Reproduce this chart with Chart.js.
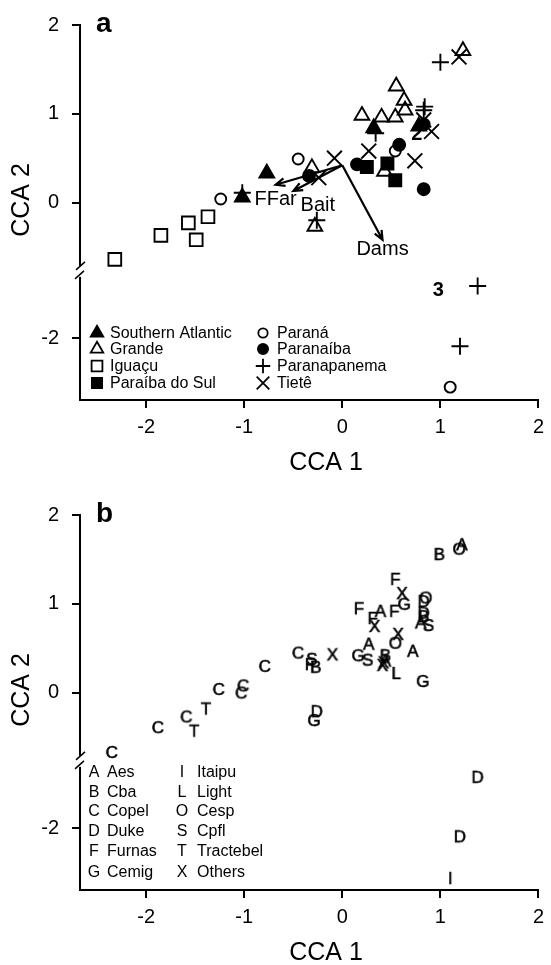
<!DOCTYPE html>
<html>
<head>
<meta charset="utf-8">
<title>CCA ordination</title>
<script src="https://cdn.jsdelivr.net/npm/chart.js@4.4.0/dist/chart.umd.min.js"></script>
<style>
  html, body { margin: 0; padding: 0; background: #fff; }
  #wrap { position: relative; width: 551px; height: 965px; overflow: hidden; }
  canvas { position: absolute; left: 0; }
  #panelA { top: 0; }
  #panelB { top: 490px; }
</style>
</head>
<body>
<div id="wrap">
  <canvas id="panelA" width="551" height="490"></canvas>
  <canvas id="panelB" width="551" height="475"></canvas>
</div>
<script>
// ---- data: panel a, sites by basin (CCA 1, CCA 2) ----
const southAtlanticX = [-0.77, -1.02, 0.32, 0.78];
const southAtlanticY = [0.33, 0.06, 0.84, 0.86];
const grandeX = [1.23, 0.55, 0.63, 0.64, 0.20, 0.40, 0.54, 0.43, -0.31, -0.28];
const grandeY = [1.71, 1.31, 1.15, 1.04, 0.98, 0.96, 0.96, 0.35, 0.39, -0.27];
const iguacuX = [-1.85, -1.57, -1.37, -1.49, -2.32];
const iguacuY = [-0.37, -0.23, -0.16, -0.42, -0.64];
const paraibaSulX = [0.25, 0.46, 0.54];
const paraibaSulY = [0.40, 0.44, 0.25];
const paranaX = [-0.45, -1.24, 0.54, 1.10];
const paranaY = [0.49, 0.04, 0.58, -2.55];
const paranaibaX = [0.15, -0.34, 0.58, 0.83, 0.83];
const paranaibaY = [0.43, 0.30, 0.65, 0.15, 0.88];
const paranapanemaX = [1.00, 0.84, 0.83, 0.34, -1.02, -0.26, 1.38, 1.20];
const paranapanemaY = [1.58, 1.08, 1.04, 0.78, 0.11, -0.20, -1.41, -2.09];
const tieteX = [1.19, 0.83, 0.91, 0.27, 0.74, -0.08, -0.24];
const tieteY = [1.64, 0.93, 0.80, 0.58, 0.47, 0.50, 0.28];

// environmental vectors (start, end)
const vecNames = ["FFar", "Bait", "Dams"];
const vecOrigin = [0, 0.42];
const vecEndX = [-0.68, -0.50, 0.41];
const vecEndY = [0.20, 0.13, -0.42];
const vecLabelX = [-0.68, -0.25, 0.41];
const vecLabelY = [0.03, -0.03, -0.53];

// ---- data: panel b, sites by company ----
const companyCodes = ["A", "B", "C", "D", "F", "G", "I", "L", "O", "S", "T", "X"];
const companyNames = ["Aes", "Cba", "Copel", "Duke", "Furnas", "Cemig", "Itaipu", "Light", "Cesp", "Cpfl", "Tractebel", "Others"];
const compAX = [1.22, 0.39, 0.80, 0.27, 0.72, 0.44];
const compAY = [1.67, 0.92, 0.79, 0.55, 0.47, 0.36];
const compBX = [0.99, 0.83, 0.44, -0.27];
const compBY = [1.56, 0.86, 0.42, 0.29];
const compCX = [-0.45, -0.79, -1.26, -1.01, -1.03, -1.59, -1.88, -2.35];
const compCY = [0.45, 0.30, 0.04, 0.08, 0.00, -0.27, -0.39, -0.67];
const compDX = [0.83, 0.83, -0.26, 1.38, 1.20];
const compDY = [1.03, 0.90, -0.21, -1.42, -2.09];
const compFX = [0.54, 0.17, 0.53, 0.31, -0.33];
const compFY = [1.28, 0.95, 0.92, 0.84, 0.32];
const compGX = [0.63, 0.16, 0.82, -0.29];
const compGY = [1.00, 0.42, 0.13, -0.31];
const compIX = [1.10];
const compIY = [-2.56];
const compLX = [0.55];
const compLY = [0.22];
const compOX = [1.19, 0.85, 0.54];
const compOY = [1.62, 1.07, 0.56];
const compSX = [0.88, 0.26, -0.31];
const compSY = [0.76, 0.37, 0.38];
const compTX = [-1.39, -1.51];
const compTY = [-0.18, -0.43];
const compXX = [0.61, 0.33, 0.57, -0.10, 0.41, 0.42];
const compXY = [1.12, 0.75, 0.66, 0.43, 0.31, 0.34];

// axes
const xTicks = [-2, -1, 0, 1, 2];
const yTicks = [-2, 0, 1, 2];
const X_MIN = -2.675, X_MAX = 2;
const Y_MIN = -2.225, Y_MAX = 2;   // in broken-axis display units
const BREAK_AT = -0.77;            // where the y axis is cut
const SHIFT = 0.47;                // how much the lower part is pulled up

const FONT = "'Liberation Sans', Arial, Helvetica, sans-serif";

function toDisp(v) { return v < -1.0 ? v + SHIFT : v; }
function fromDisp(d) { return d < BREAK_AT ? d - SHIFT : d; }
function pts(xs, ys) { return xs.map((x, i) => ({ x: x, y: toDisp(ys[i]) })); }

function makeScales(h) {
  const grid = { display: true, drawOnChartArea: false, drawTicks: true, tickLength: 8, color: '#000', lineWidth: 2 };
  const border = { display: true, color: '#000', width: 2 };
  return {
    x: {
      type: 'linear', min: X_MIN, max: X_MAX,
      afterBuildTicks: s => { s.ticks = xTicks.map(v => ({ value: v })); },
      afterFit: s => { s.height = h - 400; },
      grid: grid, border: border,
      ticks: { color: '#000', font: { family: FONT, size: 20 }, padding: 7, autoSkip: false, maxRotation: 0,
               callback: v => String(v) }
    },
    y: {
      type: 'linear', min: Y_MIN, max: Y_MAX,
      afterBuildTicks: s => { s.ticks = yTicks.map(v => ({ value: toDisp(v) })); },
      afterFit: s => { s.width = 80; },
      grid: grid, border: border,
      ticks: { color: '#000', font: { family: FONT, size: 20 }, padding: 13, autoSkip: false,
               callback: v => String(Math.round(fromDisp(v))) }
    }
  };
}

// axis break, titles and panel letter, shared by both panels
function frame(letter) {
  return {
    id: 'frame' + letter,
    afterDraw(chart) {
      const ctx = chart.ctx, a = chart.chartArea, y = chart.scales.y;
      const bx = a.left, by = y.getPixelForValue(BREAK_AT);
      ctx.save();
      ctx.fillStyle = '#fff';
      ctx.fillRect(bx - 3, by - 5, 6, 11);
      ctx.strokeStyle = '#000';
      ctx.lineWidth = 1.5;
      ctx.beginPath();
      ctx.moveTo(bx - 4, by - 1); ctx.lineTo(bx + 5, by - 9);
      ctx.moveTo(bx - 5, by + 8); ctx.lineTo(bx + 4, by);
      ctx.stroke();

      ctx.fillStyle = '#000';
      ctx.font = '25px ' + FONT;
      ctx.textAlign = 'center';
      ctx.textBaseline = 'middle';
      ctx.fillText('CCA 1', 326, 463);
      ctx.save();
      ctx.translate(22, 200);
      ctx.rotate(-Math.PI / 2);
      ctx.fillText('CCA 2', 0, 0);
      ctx.restore();

      ctx.font = 'bold 28px ' + FONT;
      ctx.textAlign = 'left';
      ctx.fillText(letter, 96, 24);
      ctx.restore();
    }
  };
}

function drawSymbol(ctx, style, radius, filled, x, y) {
  ctx.fillStyle = filled ? '#000' : 'rgba(0,0,0,0)';
  ctx.strokeStyle = '#000';
  ctx.lineWidth = 1.8;
  Chart.helpers.drawPoint(ctx, { pointStyle: style, radius: radius, borderWidth: 1.8, rotation: 0 }, x, y);
}

// ---- panel a ----
const basinSets = [
  { label: 'Southern Atlantic', xs: southAtlanticX, ys: southAtlanticY, style: 'triangle', r: 8.5, filled: true },
  { label: 'Grande', xs: grandeX, ys: grandeY, style: 'triangle', r: 8.5, filled: false },
  { label: 'Iguaçu', xs: iguacuX, ys: iguacuY, style: 'rect', r: 9, filled: false },
  { label: 'Paraíba do Sul', xs: paraibaSulX, ys: paraibaSulY, style: 'rect', r: 8.5, filled: true },
  { label: 'Paraná', xs: paranaX, ys: paranaY, style: 'circle', r: 5.5, filled: false },
  { label: 'Paranaíba', xs: paranaibaX, ys: paranaibaY, style: 'circle', r: 6, filled: true },
  { label: 'Paranapanema', xs: paranapanemaX, ys: paranapanemaY, style: 'cross', r: 8.5, filled: false },
  { label: 'Tietê', xs: tieteX, ys: tieteY, style: 'crossRot', r: 10.5, filled: false }
];

const annotateA = {
  id: 'annotateA',
  afterDatasetsDraw(chart) {
    const ctx = chart.ctx, sx = chart.scales.x, sy = chart.scales.y;
    ctx.save();
    ctx.strokeStyle = '#000';
    ctx.fillStyle = '#000';
    ctx.lineWidth = 2.2;
    const ox = sx.getPixelForValue(vecOrigin[0]), oy = sy.getPixelForValue(vecOrigin[1]);
    vecNames.forEach((name, i) => {
      const ex = sx.getPixelForValue(vecEndX[i]), ey = sy.getPixelForValue(vecEndY[i]);
      const ang = Math.atan2(ey - oy, ex - ox);
      ctx.beginPath();
      ctx.moveTo(ox, oy); ctx.lineTo(ex, ey);
      ctx.moveTo(ex - 10 * Math.cos(ang - 0.4), ey - 10 * Math.sin(ang - 0.4));
      ctx.lineTo(ex, ey);
      ctx.lineTo(ex - 10 * Math.cos(ang + 0.4), ey - 10 * Math.sin(ang + 0.4));
      ctx.stroke();
      ctx.font = '20px ' + FONT;
      ctx.textAlign = 'center';
      ctx.textBaseline = 'middle';
      ctx.fillText(name, sx.getPixelForValue(vecLabelX[i]), sy.getPixelForValue(vecLabelY[i]));
    });
    ctx.font = 'bold 20px ' + FONT;
    ctx.fillText('2', sx.getPixelForValue(0.76), sy.getPixelForValue(0.77));
    ctx.fillText('3', sx.getPixelForValue(0.98), sy.getPixelForValue(toDisp(-1.46)));

    // legend
    const rowsY = [333, 349, 366, 383];
    ctx.font = '16px ' + FONT;
    ctx.textAlign = 'left';
    basinSets.forEach((b, i) => {
      const col = Math.floor(i / 4), row = i % 4;
      const symX = col === 0 ? 97 : 263, txtX = col === 0 ? 110 : 277;
      drawSymbol(ctx, b.style, b.r * 0.85, b.filled, symX, rowsY[row]);
      ctx.fillStyle = '#000';
      ctx.fillText(b.label, txtX, rowsY[row] + 1);
    });
    ctx.restore();
  }
};

new Chart(document.getElementById('panelA'), {
  type: 'scatter',
  data: {
    datasets: basinSets.map(b => ({
      label: b.label,
      data: pts(b.xs, b.ys),
      pointStyle: b.style,
      pointRadius: b.r,
      borderColor: '#000',
      backgroundColor: b.filled ? '#000' : 'rgba(0,0,0,0)',
      borderWidth: 1.9,
      clip: false
    }))
  },
  options: {
    responsive: false,
    animation: false,
    events: [],
    layout: { padding: { top: 18, right: 6, left: 0, bottom: 0 } },
    scales: makeScales(490),
    plugins: { legend: { display: false }, tooltip: { enabled: false } }
  },
  plugins: [annotateA, frame('a')]
});

// ---- panel b ----
const companyXs = [compAX, compBX, compCX, compDX, compFX, compGX, compIX, compLX, compOX, compSX, compTX, compXX];
const companyYs = [compAY, compBY, compCY, compDY, compFY, compGY, compIY, compLY, compOY, compSY, compTY, compXY];

function letterImage(ch) {
  const c = document.createElement('canvas');
  c.width = 22; c.height = 22;
  const g = c.getContext('2d');
  g.fillStyle = '#000';
  g.strokeStyle = '#000';
  g.lineWidth = 0.6;
  g.font = '17px ' + FONT;
  g.textAlign = 'center';
  g.textBaseline = 'middle';
  g.fillText(ch, 11, 12);
  g.strokeText(ch, 11, 12);
  return c;
}

const legendB = {
  id: 'legendB',
  afterDatasetsDraw(chart) {
    const ctx = chart.ctx;
    const rowsY = [283, 303, 322, 342, 362, 383];
    ctx.save();
    ctx.fillStyle = '#000';
    ctx.font = '16px ' + FONT;
    ctx.textBaseline = 'middle';
    companyCodes.forEach((code, i) => {
      const col = Math.floor(i / 6), row = i % 6;
      ctx.textAlign = 'center';
      ctx.fillText(code, col === 0 ? 94 : 182, rowsY[row]);
      ctx.textAlign = 'left';
      ctx.fillText(companyNames[i], col === 0 ? 107 : 197, rowsY[row]);
    });
    ctx.restore();
  }
};

new Chart(document.getElementById('panelB'), {
  type: 'scatter',
  data: {
    datasets: companyCodes.map((code, i) => ({
      label: companyNames[i],
      data: pts(companyXs[i], companyYs[i]),
      pointStyle: letterImage(code),
      pointRadius: 8,
      clip: false
    }))
  },
  options: {
    responsive: false,
    animation: false,
    events: [],
    layout: { padding: { top: 18, right: 6, left: 0, bottom: 0 } },
    scales: makeScales(475),
    plugins: { legend: { display: false }, tooltip: { enabled: false } }
  },
  plugins: [legendB, frame('b')]
});
</script>
</body>
</html>
